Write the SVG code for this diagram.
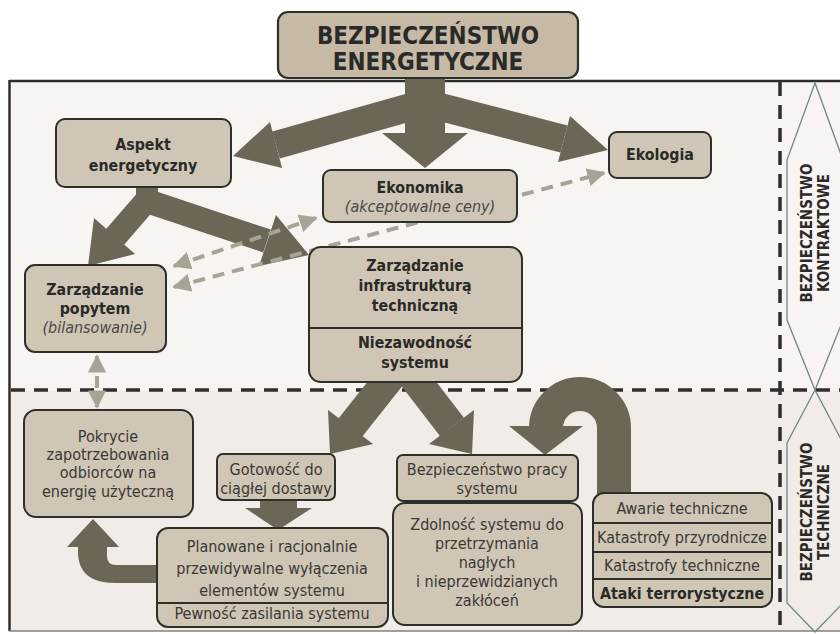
<svg xmlns="http://www.w3.org/2000/svg" width="840" height="634" viewBox="0 0 840 634">
<defs>
<style>
.box{fill:#cfc6b6;stroke:#2e2f2a;stroke-width:2}
.title{fill:#c6baa6;stroke:#2e2f2a;stroke-width:2.2}
.div{stroke:#2e2f2a;stroke-width:2;fill:none}
.b{font-family:"DejaVu Sans Condensed","DejaVu Sans",sans-serif;font-stretch:condensed;font-weight:bold;font-size:15.8px;fill:#2a2a28;text-anchor:middle}
.r{font-family:"DejaVu Sans Condensed","DejaVu Sans",sans-serif;font-stretch:condensed;font-size:16px;fill:#3a3935;text-anchor:middle}
.i{font-family:"DejaVu Sans Condensed","DejaVu Sans",sans-serif;font-stretch:condensed;font-style:italic;font-size:16px;fill:#4a4945;text-anchor:middle}
.t{font-family:"DejaVu Sans Condensed","DejaVu Sans",sans-serif;font-stretch:condensed;font-weight:bold;font-size:24px;fill:#2a2a28;text-anchor:middle}
.v{font-family:"DejaVu Sans Condensed","DejaVu Sans",sans-serif;font-stretch:condensed;font-weight:bold;font-size:15px;fill:#2a2a28;text-anchor:middle}
.arr{fill:#6b6656}
.sh{stroke:#6b6656;fill:none;stroke-linecap:butt}
.dash{stroke:#a8a397;stroke-width:4;stroke-dasharray:12 8;fill:none}
.sep{stroke:#2e2e2e;stroke-width:3.5;stroke-dasharray:14 9;fill:none}
.hex{fill:none;stroke:#6f8985;stroke-width:1.3}
</style>
<marker id="dh" viewBox="0 0 10 10" refX="9" refY="5" markerWidth="4.6" markerHeight="4.6" orient="auto-start-reverse" markerUnits="strokeWidth">
<path d="M0 0 L10 5 L0 10 Z" fill="#a8a397"/>
</marker>
</defs>

<!-- background -->
<rect x="0" y="0" width="840" height="634" fill="#ffffff"/>
<rect x="9" y="81" width="840" height="310" fill="#f8f4f1"/>
<rect x="9" y="391" width="840" height="240" fill="#f1ece7"/>
<line x1="9" y1="81" x2="840" y2="81" stroke="#2e2e2e" stroke-width="2.5"/>
<line x1="9.5" y1="80" x2="9.5" y2="631" stroke="#2e2e2e" stroke-width="2.5"/>
<line x1="9" y1="631" x2="840" y2="631" stroke="#8a7f76" stroke-width="1.5"/>

<g id="separators">
<line class="sep" x1="11" y1="390" x2="840" y2="390"/>
<line class="sep" x1="780" y1="82" x2="780" y2="634"/>
</g>

<g id="label-kontraktowe">
<polygon class="hex" points="815,83 787,160 787,320 815,390 843,320 843,160"/>
<text class="v" transform="translate(812,233) rotate(-90)">BEZPIECZEŃSTWO</text>
<text class="v" transform="translate(829,233) rotate(-90)">KONTRAKTOWE</text>
</g>
<g id="label-techniczne">
<polygon class="hex" points="815,390 787,443 787,603 815,632 843,603 843,443"/>
<text class="v" transform="translate(812,512) rotate(-90)">BEZPIECZEŃSTWO</text>
<text class="v" transform="translate(829,512) rotate(-90)">TECHNICZNE</text>
</g>

<g id="connectors">
<!-- top three-way arrow -->
<rect class="arr" x="405" y="76" width="40" height="60"/>
<line class="sh" x1="425" y1="103" x2="276" y2="145" stroke-width="28"/>
<polygon class="arr" points="233,156 282,168 270,122"/>
<line class="sh" x1="425" y1="103" x2="564" y2="139" stroke-width="28"/>
<polygon class="arr" points="608,150 558,162 570,116"/>
<polygon class="arr" points="382,133 468,133 425,168"/>

<!-- Aspekt split -->
<rect class="arr" x="136" y="185" width="22" height="22"/>
<line class="sh" x1="147" y1="200" x2="115" y2="237" stroke-width="24"/>
<polygon class="arr" points="88,266 135,254 94,218"/>
<line class="sh" x1="147" y1="201" x2="267" y2="241" stroke-width="24"/>
<polygon class="arr" points="309,255 259,266 276,215"/>

<!-- dashed links -->
<line class="dash" x1="174" y1="266" x2="316" y2="218" marker-start="url(#dh)" marker-end="url(#dh)"/>
<line class="dash" x1="174" y1="287" x2="604" y2="173" marker-start="url(#dh)" marker-end="url(#dh)"/>
<line class="dash" x1="97" y1="356" x2="97" y2="407" marker-start="url(#dh)" marker-end="url(#dh)"/>

<!-- infrastructure split -->
<line class="sh" x1="392" y1="375" x2="350" y2="428" stroke-width="30"/>
<polygon class="arr" points="330,454 373,444 328,410"/>
<line class="sh" x1="412" y1="375" x2="452" y2="427" stroke-width="30"/>
<polygon class="arr" points="472,454 474,410 429,444"/>

<!-- Gotowosc -> Planowane -->
<rect class="arr" x="260" y="498" width="37" height="12"/>
<polygon class="arr" points="245,508 312,508 278,530"/>

<!-- Planowane -> Pokrycie (U-turn) -->
<path class="arr" d="M158 565 L116 565 Q107 565 107 556 L107 547 L119 547 L93 519 L67 547 L78 547 L78 552 C78 572 90 583 115 583 L158 583 Z"/>

<!-- Awarie -> Bezpieczenstwo pracy (U-turn) -->
<path class="sh" d="M614 495 V428 A34 34 0 0 0 546 428 V430" stroke-width="34"/>
<polygon class="arr" points="509,426 583,426 545,455"/>
</g>

<g id="n-title">
<rect class="title" x="278" y="12" width="300" height="66" rx="10"/>
<text class="t" x="428" y="44">BEZPIECZEŃSTWO</text>
<text class="t" x="428" y="70">ENERGETYCZNE</text>
</g>

<g id="n-aspekt">
<rect class="box" x="56" y="119" width="175" height="68" rx="9"/>
<text class="b" x="143" y="150">Aspekt</text>
<text class="b" x="143" y="171">energetyczny</text>
</g>

<g id="n-ekologia">
<rect class="box" x="609" y="132" width="102" height="46" rx="8"/>
<text class="b" x="660" y="160">Ekologia</text>
</g>

<g id="n-ekonomika">
<rect class="box" x="323" y="170" width="194" height="52" rx="8"/>
<text class="b" x="420" y="193">Ekonomika</text>
<text class="i" x="420" y="212">(akceptowalne ceny)</text>
</g>

<g id="n-popyt">
<rect class="box" x="25" y="265" width="141" height="87" rx="10"/>
<text class="b" x="95" y="295">Zarządzanie</text>
<text class="b" x="95" y="314">popytem</text>
<text class="i" x="95" y="333">(bilansowanie)</text>
</g>

<g id="n-infra">
<rect class="box" x="309" y="247" width="213" height="135" rx="12"/>
<line class="div" x1="309" y1="328" x2="522" y2="328"/>
<text class="b" x="415" y="271">Zarządzanie</text>
<text class="b" x="415" y="291">infrastrukturą</text>
<text class="b" x="415" y="311">techniczną</text>
<text class="b" x="415" y="348">Niezawodność</text>
<text class="b" x="415" y="368">systemu</text>
</g>

<g id="n-pokrycie">
<rect class="box" x="24" y="410" width="169" height="107" rx="12"/>
<text class="r" x="108" y="442">Pokrycie</text>
<text class="r" x="108" y="460">zapotrzebowania</text>
<text class="r" x="108" y="478">odbiorców na</text>
<text class="r" x="108" y="497">energię użyteczną</text>
</g>

<g id="n-gotowosc">
<rect class="box" x="217" y="454" width="118" height="46" rx="6"/>
<text class="r" x="276" y="475">Gotowość do</text>
<text class="r" x="276" y="494">ciągłej dostawy</text>
</g>

<g id="n-planowane">
<rect class="box" x="157" y="528" width="231" height="99" rx="11"/>
<line class="div" x1="157" y1="603" x2="388" y2="603"/>
<text class="r" x="272" y="552">Planowane i racjonalnie</text>
<text class="r" x="272" y="574">przewidywalne wyłączenia</text>
<text class="r" x="272" y="596">elementów systemu</text>
<text class="r" x="272" y="619">Pewność zasilania systemu</text>
</g>

<g id="n-bezp-pracy">
<rect class="box" x="397" y="455" width="181" height="46" rx="6"/>
<text class="r" x="487" y="475">Bezpieczeństwo pracy</text>
<text class="r" x="487" y="494">systemu</text>
</g>

<g id="n-zdolnosc">
<rect class="box" x="393" y="503" width="189" height="122" rx="12"/>
<text class="r" x="487" y="530">Zdolność systemu do</text>
<text class="r" x="487" y="549">przetrzymania</text>
<text class="r" x="487" y="568">nagłych</text>
<text class="r" x="487" y="587">i nieprzewidzianych</text>
<text class="r" x="487" y="606">zakłóceń</text>
</g>

<g id="n-zagrozenia">
<rect class="box" x="593" y="493" width="179" height="114" rx="11"/>
<line class="div" x1="593" y1="523" x2="772" y2="523"/>
<line class="div" x1="593" y1="552" x2="772" y2="552"/>
<line class="div" x1="593" y1="579" x2="772" y2="579"/>
<text class="r" x="682" y="514">Awarie techniczne</text>
<text class="r" x="682" y="543">Katastrofy przyrodnicze</text>
<text class="r" x="682" y="571">Katastrofy techniczne</text>
<text class="b" x="682" y="599">Ataki terrorystyczne</text>
</g>
</svg>
